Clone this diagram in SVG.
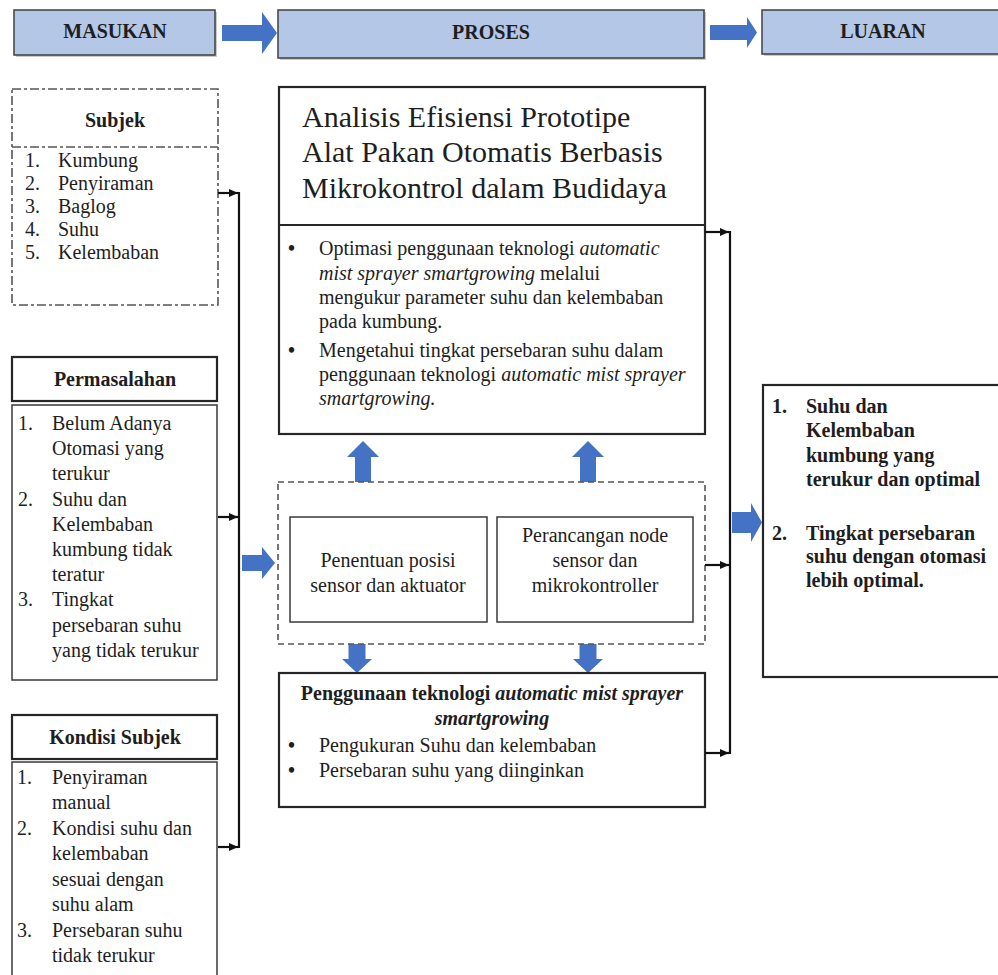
<svg xmlns="http://www.w3.org/2000/svg" width="998" height="975" viewBox="0 0 998 975">
<defs>
<style>
text{font-family:'Liberation Serif','Tinos','Times New Roman','Nimbus Roman','DejaVu Serif',serif;fill:#1e1e1e;font-size:20px}
.b{font-weight:bold}
.i{font-style:italic}
.m{text-anchor:middle}
.hdr{fill:#b4c7e7;stroke:#3f3f3f;stroke-width:1.5}
.shd{fill:#8a8a8a;opacity:0.45}
.blk{fill:#4472c4}
.box{fill:#fff;stroke:#3a3a3a;stroke-width:1.5}
.thick{fill:#fff;stroke:#262626;stroke-width:2.2}
.dash{fill:none;stroke:#555;stroke-width:1.6;stroke-dasharray:6,4}
.dd{fill:none;stroke:#555;stroke-width:1.6;stroke-dasharray:9,3,3,3}
.conn{stroke:#111;stroke-width:2.2;fill:none}
</style>
<marker id="ah" markerWidth="9" markerHeight="8" refX="9" refY="4" orient="auto" markerUnits="userSpaceOnUse"><path d="M0,0 L9,4 L0,8 z" fill="#111"/></marker>
</defs>
<rect width="998" height="975" fill="#fff"/>

<g id="hdr-masukan">
<rect class="shd" x="16" y="12" width="201" height="45"/>
<rect class="hdr" x="14" y="10" width="201" height="45"/>
<text class="b m" x="115" y="38" font-family="Liberation Serif, serif">MASUKAN</text>
</g>
<g id="hdr-proses">
<rect class="shd" x="280" y="12" width="426" height="48"/>
<rect class="hdr" x="278" y="10" width="426" height="48"/>
<text class="b m" x="491" y="39">PROSES</text>
</g>
<g id="hdr-luaran">
<rect class="shd" x="764" y="12" width="240" height="44"/>
<rect class="hdr" x="762" y="10" width="240" height="44"/>
<text class="b m" x="883" y="38">LUARAN</text>
</g>

<g id="block-arrows">
<path class="blk" d="M222,25 H262 V12 L277,33 L262,54 V41 H222 Z"/>
<path class="blk" d="M710,25 H747 V17 L757,32.5 L747,48 V40 H710 Z"/>
<path class="blk" d="M242,555 H262 V547 L275,563 L262,579 V571 H242 Z"/>
<path class="blk" d="M732,512 H751 V503 L762,522.5 L751,542 V533 H732 Z"/>
<path class="blk" d="M363,441 L379,457 H371 V482 H355 V457 H347 Z"/>
<path class="blk" d="M588,441 L604,457 H596 V482 H580 V457 H572 Z"/>
<path class="blk" d="M348.5,644 H365.5 V659 H372 L357,673 L342,659 H348.5 Z"/>
<path class="blk" d="M579.5,644 H596.5 V659 H603 L588,673 L573,659 H579.5 Z"/>
</g>

<g id="subjek">
<rect class="dd" x="12" y="89" width="206" height="216"/>
<line class="dd" x1="12" y1="147" x2="218" y2="147"/>
<text class="b m" x="115" y="127">Subjek</text>
<text x="25" y="167">1.</text><text x="58" y="167">Kumbung</text>
<text x="25" y="190">2.</text><text x="58" y="190">Penyiraman</text>
<text x="25" y="213">3.</text><text x="58" y="213">Baglog</text>
<text x="25" y="236">4.</text><text x="58" y="236">Suhu</text>
<text x="25" y="259">5.</text><text x="58" y="259">Kelembaban</text>
</g>

<g id="permasalahan">
<rect class="thick" x="12" y="357" width="205" height="44"/>
<text class="b m" x="115" y="386">Permasalahan</text>
<rect class="box" x="12" y="405" width="205" height="275"/>
<text x="18" y="430">1.</text><text x="52" y="430">Belum Adanya</text>
<text x="52" y="455">Otomasi yang</text>
<text x="52" y="480">terukur</text>
<text x="18" y="506">2.</text><text x="52" y="506">Suhu dan</text>
<text x="52" y="531">Kelembaban</text>
<text x="52" y="556">kumbung tidak</text>
<text x="52" y="581">teratur</text>
<text x="18" y="606">3.</text><text x="52" y="606">Tingkat</text>
<text x="52" y="632">persebaran suhu</text>
<text x="52" y="657">yang tidak terukur</text>
</g>

<g id="kondisi">
<rect class="thick" x="12" y="715" width="205" height="44"/>
<text class="b m" x="115" y="744">Kondisi Subjek</text>
<rect class="box" x="12" y="762" width="205" height="240"/>
<text x="17" y="784">1.</text><text x="52" y="784">Penyiraman</text>
<text x="52" y="809">manual</text>
<text x="17" y="835">2.</text><text x="52" y="835">Kondisi suhu dan</text>
<text x="52" y="860">kelembaban</text>
<text x="52" y="886">sesuai dengan</text>
<text x="52" y="911">suhu alam</text>
<text x="17" y="937">3.</text><text x="52" y="937">Persebaran suhu</text>
<text x="52" y="962">tidak terukur</text>
</g>

<g id="judul">
<rect class="thick" x="279" y="87" width="426" height="347"/>
<line x1="279" y1="225" x2="705" y2="225" style="stroke:#262626;stroke-width:2"/>
<text x="302" y="127" style="font-size:30px">Analisis Efisiensi Prototipe</text>
<text x="302" y="162" style="font-size:30px">Alat Pakan Otomatis Berbasis</text>
<text x="302" y="198" style="font-size:30px">Mikrokontrol dalam Budidaya</text>
<text x="288" y="255" class="b">•</text>
<text x="319" y="255">Optimasi penggunaan teknologi <tspan class="i">automatic</tspan></text>
<text x="319" y="280"><tspan class="i">mist sprayer smartgrowing</tspan> melalui</text>
<text x="319" y="304">mengukur parameter suhu dan kelembaban</text>
<text x="319" y="328">pada kumbung.</text>
<text x="288" y="357" class="b">•</text>
<text x="319" y="357">Mengetahui tingkat persebaran suhu dalam</text>
<text x="319" y="381">penggunaan teknologi <tspan class="i">automatic mist sprayer</tspan></text>
<text x="319" y="405" class="i">smartgrowing.</text>
</g>

<g id="tahapan">
<rect class="dash" x="278" y="482" width="427" height="162"/>
</g>
<g id="penentuan">
<rect class="box" x="290" y="517" width="197" height="105"/>
<text class="m" x="388" y="567">Penentuan posisi</text>
<text class="m" x="388" y="592">sensor dan aktuator</text>
</g>
<g id="perancangan">
<rect class="box" x="497" y="517" width="196" height="105"/>
<text class="m" x="595" y="542">Perancangan node</text>
<text class="m" x="595" y="567">sensor dan</text>
<text class="m" x="595" y="592">mikrokontroller</text>
</g>

<g id="penggunaan">
<rect class="thick" x="279" y="673" width="426" height="134"/>
<text class="m" x="492" y="700"><tspan class="b">Penggunaan teknologi </tspan><tspan class="b i">automatic mist sprayer</tspan></text>
<text class="m b i" x="492" y="725">smartgrowing</text>
<text x="288" y="752" class="b">•</text><text x="319" y="752">Pengukuran Suhu dan kelembaban</text>
<text x="288" y="777" class="b">•</text><text x="319" y="777">Persebaran suhu yang diinginkan</text>
</g>

<g id="luaran">
<rect class="thick" x="763" y="385" width="250" height="292"/>
<text class="b" x="772" y="413">1.</text><text class="b" x="806" y="413">Suhu dan</text>
<text class="b" x="806" y="437">Kelembaban</text>
<text class="b" x="806" y="462">kumbung yang</text>
<text class="b" x="806" y="486">terukur dan optimal</text>
<text class="b" x="772" y="540">2.</text><text class="b" x="806" y="540">Tingkat persebaran</text>
<text class="b" x="806" y="563">suhu dengan otomasi</text>
<text class="b" x="806" y="587">lebih optimal.</text>
</g>

<g id="connectors">
<line class="conn" x1="239" y1="192" x2="239" y2="848"/>
<path class="conn" d="M218,193 H238" marker-end="url(#ah)"/>
<path class="conn" d="M218,517 H238" marker-end="url(#ah)"/>
<path class="conn" d="M218,847 H238" marker-end="url(#ah)"/>
<line class="conn" x1="730" y1="231" x2="730" y2="754"/>
<path class="conn" d="M705,232 H729" marker-end="url(#ah)"/>
<path class="conn" d="M705,565 H729" marker-end="url(#ah)"/>
<path class="conn" d="M705,753 H729" marker-end="url(#ah)"/>
</g>
</svg>
